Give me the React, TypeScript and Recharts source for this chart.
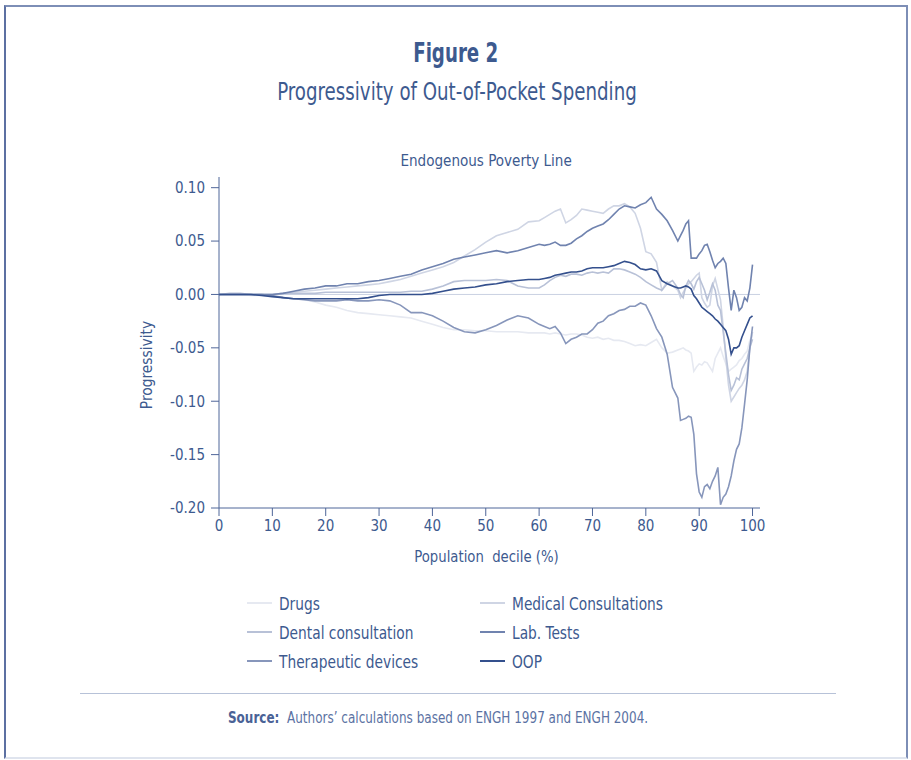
import React from 'react';
import { LineChart, Line, XAxis, YAxis, ReferenceLine } from 'recharts';

const deciles = [
  0, 2, 4, 6, 8, 10, 12, 14, 16, 18, 20, 22, 24, 26, 28, 30, 32, 34, 36, 38, 40, 42, 44, 46, 48, 50, 52, 54, 56, 58, 60,
  61, 62, 63, 64, 65, 66, 67, 68, 69, 70, 71, 72, 73, 74, 75, 76, 77, 78, 79, 80, 81, 82, 83, 84, 85, 86,
  86.5, 87, 87.5, 88, 88.5, 89, 89.5, 90, 90.5, 91, 91.5, 92, 92.5, 93, 93.5, 94, 94.5, 95, 95.5, 96, 96.5, 97, 97.5, 98, 98.5, 99, 99.5, 100,
];

const drugs = [
  0, 0, 0, -0.001, -0.001, -0.002, -0.003, -0.004, -0.005, -0.007, -0.01, -0.012, -0.015, -0.017, -0.018, -0.019, -0.02, -0.021, -0.022, -0.025, -0.028, -0.031, -0.033, -0.033, -0.034, -0.034, -0.035, -0.035, -0.035, -0.036, -0.036,
  -0.036, -0.037, -0.036, -0.037, -0.038, -0.037, -0.037, -0.038, -0.04, -0.041, -0.04, -0.042, -0.041, -0.043, -0.043, -0.044, -0.046, -0.048, -0.047, -0.048, -0.045, -0.042, -0.05, -0.055, -0.054, -0.052,
  -0.051, -0.05, -0.052, -0.053, -0.055, -0.072, -0.068, -0.065, -0.066, -0.063, -0.064, -0.068, -0.072, -0.06, -0.055, -0.05, -0.058, -0.065, -0.072, -0.07, -0.068, -0.066, -0.062, -0.06, -0.056, -0.053, -0.043, -0.038,
];

const medical = [
  0, 0, 0, 0, 0, 0, 0.001, 0.002, 0.003, 0.004, 0.005, 0.006, 0.007, 0.008, 0.009, 0.01, 0.012, 0.014, 0.017, 0.02, 0.023, 0.026, 0.03, 0.036, 0.042, 0.049, 0.055, 0.058, 0.061, 0.068, 0.069,
  0.072, 0.075, 0.078, 0.08, 0.067, 0.07, 0.074, 0.08, 0.079, 0.078, 0.077, 0.076, 0.08, 0.083, 0.083, 0.085, 0.082, 0.076, 0.062, 0.04, 0.038, 0.03, 0.004, 0.012, 0.008, 0.004,
  -0.003, 0.002, 0.006, 0.01, 0.012, 0.015, 0.018, 0.02, -0.003, -0.008, -0.012, -0.01, 0.008, 0.015, 0.005, -0.005, -0.03, -0.06, -0.085, -0.1, -0.096, -0.092, -0.088, -0.085, -0.08, -0.072, -0.05, -0.035,
];

const dental = [
  0, 0.001, 0.001, 0, 0, 0, 0.001, 0.001, 0.001, 0.001, 0.002, 0.002, 0.002, 0.002, 0.002, 0.002, 0.002, 0.002, 0.003, 0.003, 0.005, 0.008, 0.012, 0.013, 0.013, 0.013, 0.014, 0.013, 0.008, 0.006, 0.006,
  0.009, 0.013, 0.016, 0.018, 0.017, 0.019, 0.019, 0.018, 0.02, 0.021, 0.02, 0.021, 0.02, 0.024, 0.024, 0.023, 0.021, 0.019, 0.016, 0.012, 0.009, 0.006, 0.004, 0.01, 0.013, 0.006,
  0, -0.003, 0.008, 0.013, 0.01, 0.005, 0.012, 0.016, 0.01, 0.004, -0.005, 0.002, 0.01, 0.004, -0.01, -0.015, -0.035, -0.055, -0.075, -0.09, -0.085, -0.078, -0.08, -0.07, -0.065, -0.06, -0.05, -0.042,
];

const labTests = [
  0, 0, 0, 0, 0, 0, 0.001, 0.003, 0.005, 0.006, 0.008, 0.008, 0.01, 0.01, 0.012, 0.013, 0.015, 0.017, 0.019, 0.023, 0.026, 0.029, 0.033, 0.035, 0.037, 0.039, 0.041, 0.039, 0.041, 0.044, 0.047,
  0.046, 0.047, 0.049, 0.046, 0.046, 0.048, 0.052, 0.055, 0.059, 0.062, 0.064, 0.066, 0.07, 0.075, 0.08, 0.083, 0.082, 0.081, 0.084, 0.086, 0.091, 0.08, 0.075, 0.069, 0.06, 0.05,
  0.055, 0.06, 0.066, 0.069, 0.034, 0.034, 0.034, 0.038, 0.041, 0.046, 0.047, 0.04, 0.032, 0.025, 0.029, 0.031, 0.034, 0.029, 0.006, -0.015, 0.004, -0.003, -0.015, -0.012, -0.003, -0.006, 0.006, 0.028,
];

const therapeutic = [
  0, 0, 0, 0, 0, -0.001, -0.003, -0.004, -0.005, -0.006, -0.006, -0.006, -0.005, -0.006, -0.006, -0.005, -0.006, -0.01, -0.017, -0.017, -0.02, -0.025, -0.031, -0.035, -0.036, -0.033, -0.029, -0.024, -0.02, -0.022, -0.028,
  -0.03, -0.032, -0.03, -0.036, -0.046, -0.042, -0.04, -0.037, -0.037, -0.033, -0.027, -0.025, -0.02, -0.018, -0.015, -0.014, -0.011, -0.011, -0.008, -0.01, -0.02, -0.032, -0.04, -0.056, -0.087, -0.097,
  -0.118, -0.117, -0.116, -0.114, -0.115, -0.131, -0.168, -0.185, -0.19, -0.18, -0.178, -0.182, -0.175, -0.17, -0.162, -0.197, -0.19, -0.187, -0.18, -0.17, -0.156, -0.145, -0.14, -0.125, -0.103, -0.08, -0.05, -0.03,
];

const oop = [
  0, 0, 0, 0, -0.001, -0.002, -0.003, -0.004, -0.004, -0.004, -0.004, -0.004, -0.004, -0.004, -0.003, -0.001, 0, 0, 0, 0, 0.001, 0.003, 0.005, 0.006, 0.007, 0.009, 0.01, 0.012, 0.013, 0.014, 0.014,
  0.015, 0.016, 0.018, 0.019, 0.02, 0.021, 0.021, 0.022, 0.024, 0.025, 0.025, 0.025, 0.026, 0.027, 0.029, 0.031, 0.03, 0.028, 0.024, 0.023, 0.024, 0.022, 0.013, 0.01, 0.008, 0.006,
  0.006, 0.007, 0.008, 0.007, 0.005, -0.001, -0.004, -0.008, -0.012, -0.014, -0.016, -0.018, -0.02, -0.023, -0.025, -0.028, -0.031, -0.034, -0.042, -0.056, -0.05, -0.05, -0.048, -0.04, -0.034, -0.028, -0.022, -0.02,
];

const xTicks = [0, 10, 20, 30, 40, 50, 60, 70, 80, 90, 100];
const yTicks = [-0.2, -0.15, -0.1, -0.05, 0, 0.05, 0.1];

const seriesList = [
  { key: 'drugs', name: 'Drugs', values: drugs, color: '#e6e9f1' },
  { key: 'medical', name: 'Medical Consultations', values: medical, color: '#cfd5e4' },
  { key: 'dental', name: 'Dental consultation', values: dental, color: '#b8c1d7' },
  { key: 'therapeutic', name: 'Therapeutic devices', values: therapeutic, color: '#8796bb' },
  { key: 'labTests', name: 'Lab. Tests', values: labTests, color: '#7083af' },
  { key: 'oop', name: 'OOP', values: oop, color: '#34508d' },
];

const legendOrder = ['drugs', 'medical', 'dental', 'labTests', 'therapeutic', 'oop'];

const data = deciles.map((x, i) => {
  const row: Record<string, number> = { x };
  seriesList.forEach((s) => {
    row[s.key] = s.values[i];
  });
  return row;
});

const FONT = "'Liberation Sans Narrow', 'DejaVu Sans Condensed', 'Open Sans', sans-serif";
const TEXT = '#3d5a8f';
const AXIS = '#4f6699';

function CenterText(props: { cx: number; top: number; size: number; sx: number; bold?: boolean; color?: string; children: React.ReactNode }) {
  return (
    <div style={{ position: 'absolute', left: props.cx - 400, width: 800, top: props.top, textAlign: 'center' }}>
      <span
        style={{
          display: 'inline-block',
          whiteSpace: 'nowrap',
          fontSize: props.size,
          fontWeight: props.bold ? 'bold' : 'normal',
          color: props.color || TEXT,
          transform: `scaleX(${props.sx})`,
          transformOrigin: 'center',
        }}
      >
        {props.children}
      </span>
    </div>
  );
}

export default function App() {
  return (
    <div style={{ position: 'absolute', left: 0, top: 0, width: 911, height: 760, background: '#fff', fontFamily: FONT, overflow: 'hidden' }}>
      <div style={{ position: 'absolute', left: 4, top: 5, width: 904, height: 754, borderLeft: '2px solid #5c70a2', borderTop: '2px solid #7d8eb6', borderRight: '2px solid #7d8eb6', borderBottom: '2px solid #dfe4ee', boxSizing: 'border-box' }} />
      <CenterText cx={456} top={37} size={27} sx={0.75} bold>Figure 2</CenterText>
      <CenterText cx={457} top={77} size={25} sx={0.81}>Progressivity of Out-of-Pocket Spending</CenterText>
      <CenterText cx={486} top={151} size={16} sx={0.94}>Endogenous Poverty Line</CenterText>
      <div style={{ position: 'absolute', left: 146, top: 365, width: 0, height: 0 }}>
        <div style={{ position: 'absolute', transform: 'translate(-50%, -50%) rotate(-90deg) scaleX(0.96)', whiteSpace: 'nowrap', color: TEXT, fontSize: 16 }}>Progressivity</div>
      </div>
      <CenterText cx={486} top={547} size={16} sx={0.92}>Population&nbsp; decile (%)</CenterText>
      <div style={{ position: 'absolute', left: 0, top: 0 }}>
        <LineChart width={911} height={760} data={data} margin={{ top: 177, right: 151, bottom: 222, left: 159 }}>
          <ReferenceLine y={0} stroke="#c9d1e2" strokeWidth={1} ifOverflow="extendDomain" />
          <XAxis
            type="number"
            dataKey="x"
            domain={[0, 101.4]}
            ticks={xTicks}
            allowDataOverflow
            height={30}
            stroke={AXIS}
            tickSize={8}
            tickMargin={4}
            tick={{ fill: TEXT, fontSize: 15, fontFamily: FONT }}
            tickLine={{ stroke: AXIS }}
          />
          <YAxis
            type="number"
            domain={[-0.2, 0.11]}
            ticks={yTicks}
            allowDataOverflow
            width={60}
            stroke={AXIS}
            tickSize={8}
            tickMargin={6}
            tickFormatter={(v: number) => v.toFixed(2)}
            tick={{ fill: TEXT, fontSize: 15, fontFamily: FONT }}
            tickLine={{ stroke: AXIS }}
          />
          {seriesList.map((s) => (
            <Line
              key={s.key}
              type="linear"
              dataKey={s.key}
              name={s.name}
              stroke={s.color}
              strokeWidth={1.6}
              dot={false}
              activeDot={false}
              isAnimationActive={false}
            />
          ))}
        </LineChart>
      </div>
      {legendOrder.map((k, i) => {
        const s = seriesList.find((q) => q.key === k)!;
        const col = i % 2;
        const row = Math.floor(i / 2);
        const left = col === 0 ? 247 : 480;
        const top = 591 + row * 29;
        return (
          <div key={k} style={{ position: 'absolute', left, top, height: 24, display: 'flex', alignItems: 'center', color: TEXT }}>
            <div style={{ width: 25, height: 2, background: s.color, marginRight: 7 }} />
            <span style={{ display: 'inline-block', whiteSpace: 'nowrap', fontSize: 18, transform: 'scaleX(0.85)', transformOrigin: 'left center' }}>{s.name}</span>
          </div>
        );
      })}
      <div style={{ position: 'absolute', left: 80, top: 693, width: 756, height: 1, background: '#b7c2d8' }} />
      <CenterText cx={438} top={708} size={15} sx={0.89} color="#5b72a3">
        <span style={{ fontWeight: 600, color: '#4a6296' }}>Source:</span>&nbsp; Authors’ calculations based on ENGH 1997 and ENGH 2004.
      </CenterText>
    </div>
  );
}
